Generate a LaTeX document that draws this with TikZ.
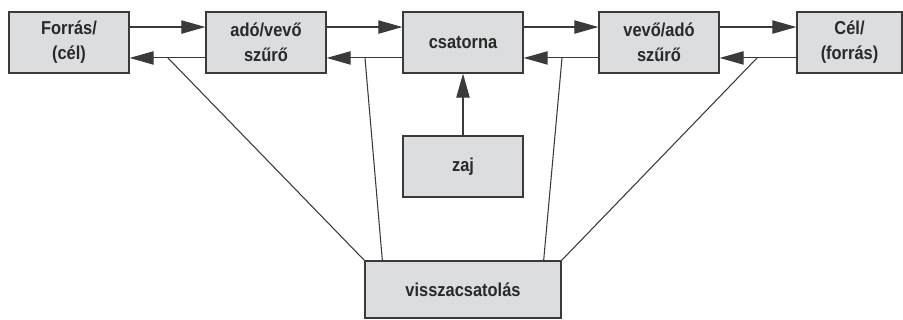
\documentclass[tikz,border=0pt]{standalone}
\usepackage{fontspec}
\setmainfont{Liberation Sans}[FakeStretch=0.88]
\usetikzlibrary{arrows.meta}
\definecolor{boxfill}{HTML}{DCDDDF}
\definecolor{boxline}{HTML}{3A3A3C}

\begin{document}
\begin{tikzpicture}[x=0.75pt, y=-0.75pt,
			-{Triangle[length=18pt, width=10pt]},
			blokk/.style={rectangle, draw=boxline, fill=boxfill, line width=1pt,
				minimum width=90pt, minimum height=45.75pt, align=center,
				font=\bfseries\fontsize{14}{18.75}\selectfont, text=boxline!70!black},
			vonal/.style={line width=0.8pt, draw=boxline, -},
			nyil/.style={line width=0.8pt, draw=boxline, fill=boxline!70!black}]
			
			\useasboundingbox (0,0) rectangle (903,320);
			
			% Blokkok a felso sorban
			\node[blokk] (forras) at (69,42.5) {Forrás/\\(cél)};
			\node[blokk] (ado) at (266,42.5) {adó/vevő\\szűrő};
			\node[blokk] (csatorna) at (463,42.5) {csatorna};
			\node[blokk] (vevo) at (659,42.5) {vevő/adó\\szűrő};
			\node[blokk, minimum width=78.75pt] (cel) at (849.5,42.5) {Cél/\\(forrás)};
			
			% Zaj es visszacsatolas
			\node[blokk] (zaj) at (463,166.5) {zaj};
			\node[blokk, minimum width=147pt, minimum height=42.75pt] (vissza) at (463,289.5) {visszacsatolás};
			
			% --- Elore iranyu nyilak ---
			\draw[nyil] ([yshift=11.6pt]forras.east) -- ([yshift=11.6pt]ado.west);
			\draw[nyil] ([yshift=11.6pt]ado.east) -- ([yshift=11.6pt]csatorna.west);
			\draw[nyil] ([yshift=11.6pt]csatorna.east) -- ([yshift=11.6pt]vevo.west);
			\draw[nyil] ([yshift=11.6pt]vevo.east) -- ([yshift=11.6pt]cel.west);
			
			% --- Visszafele iranyu nyilak ---
			\draw[nyil] ([yshift=-11.6pt]ado.west) -- ([yshift=-11.6pt]forras.east);
			\draw[nyil] ([yshift=-11.6pt]csatorna.west) -- ([yshift=-11.6pt]ado.east);
			\draw[nyil] ([yshift=-11.6pt]vevo.west) -- ([yshift=-11.6pt]csatorna.east);
			\draw[nyil] ([yshift=-11.6pt]cel.west) -- ([yshift=-11.6pt]vevo.east);
			
			% Zaj a csatornaba
			\draw[nyil] (zaj) -- (csatorna);
			
			% Visszacsatolo vonalak
			\coordinate (v1) at (168,58);
			\coordinate (v2) at (365,58);
			\coordinate (v3) at (562,58);
			\coordinate (v4) at (757,58);
			\draw[vonal] (v1) -- (vissza.north west);
			\draw[vonal] (v2) -- ([xshift=13.5pt]vissza.north west);
			\draw[vonal] (v3) -- ([xshift=-13.5pt]vissza.north east);
			\draw[vonal] (v4) -- (vissza.north east);
		\end{tikzpicture}
\end{document}
